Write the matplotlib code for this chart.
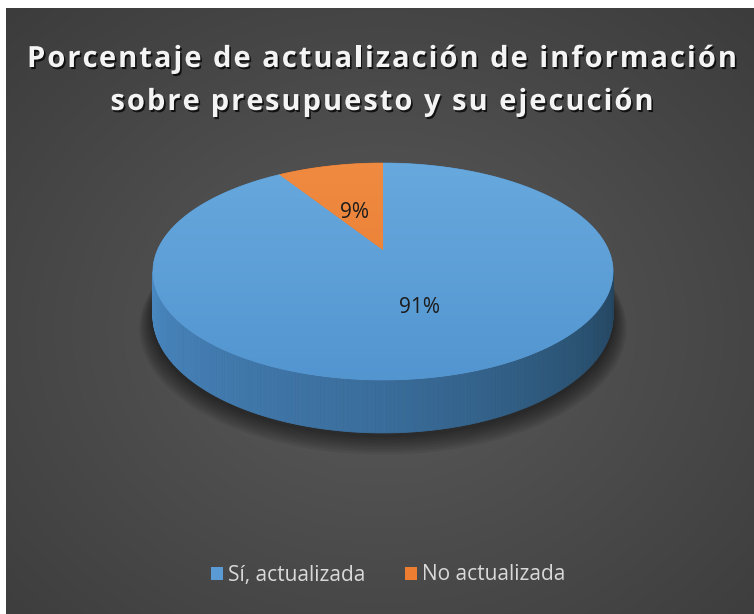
import numpy as np
import matplotlib
matplotlib.use("Agg")
import matplotlib.pyplot as plt
from matplotlib.patches import Polygon, Patch
from matplotlib.font_manager import FontProperties
from matplotlib.textpath import TextToPath
from matplotlib.colors import to_rgb
import matplotlib.patheffects as pe

# ---------------- data ----------------
title_lines = ["Porcentaje de actualización de información",
               "sobre presupuesto y su ejecución"]
categories = ["Sí, actualizada", "No actualizada"]
values = [91, 9]
pct_labels = ["91%", "9%"]
colors = ["#5b9bd5", "#ed7d31"]

# ---------------- style / layout ----------------
W, H, DPI = 754, 614, 100
top_grad = {"#5b9bd5": ("#68aade", "#5294cf"), "#ed7d31": ("#f08b42", "#e67a2d")}
side_anchor_f = [0.0, 0.5, 0.85, 1.0]
side_anchor_c = ["#4a89c3", "#3a6d9b", "#29506f", "#24455f"]
label_r = [0.52, 0.40]

fig = plt.figure(figsize=(W / DPI, H / DPI), dpi=DPI, facecolor="white")
ax = fig.add_axes([0, 0, 1, 1])
ax.set_xlim(0, W)
ax.set_ylim(H, 0)
ax.axis("off")

# background radial gradient
bx0, by0 = 6, 8
yy, xx = np.mgrid[by0:H, bx0:W] + 0.5
rr = np.sqrt(((xx - 380) / 560.0) ** 2 + ((yy - 330) / 470.0) ** 2)
g = 0.355 - 0.125 * np.clip(rr, 0, 1.3)
ax.imshow(np.dstack([g, g, g]), extent=(bx0, W, H, by0), origin="upper",
          interpolation="bilinear", zorder=0, aspect="auto")

# ---------------- pie geometry (perspective) ----------------
cx, cy = 383.0, 250.0
bx, ay = 225.5, 104.2
persp = 0.198
h0 = 42.5


def proj(theta_deg, r=1.0, down=0.0):
    t = np.radians(theta_deg)
    u = r * np.cos(t)
    v = r * np.sin(t)
    d = 1 + persp * v
    return cx + bx * u / d, cy + (-ay * v + down) / d


vals = np.asarray(values, dtype=float)
fracs = vals / vals.sum()
starts = 90 - 360 * np.concatenate([[0], np.cumsum(fracs)[:-1]])
ends = starts - 360 * fracs

# shadow
for k in range(8, 0, -1):
    th = np.linspace(0, 360, 241)
    e = k * 1.6
    sx, sy = proj(th, r=1 + e / 230.0, down=h0 + e * 0.6)
    ax.add_patch(Polygon(np.column_stack([sx, sy + 2]), closed=True,
                         facecolor="black", edgecolor="none", alpha=0.07, zorder=1))

# visible side range (front)
a_l = 180 + np.degrees(np.arcsin(persp))
a_r = 360 - np.degrees(np.arcsin(persp))


def side_color(f):
    rgbs = np.array([to_rgb(c) for c in side_anchor_c])
    return [np.interp(f, side_anchor_f, rgbs[:, i]) for i in range(3)]


for s, e, col in zip(starts, ends, colors):
    lo, hi = min(s, e), max(s, e)
    for shift in (-360, 0, 360):
        a0 = max(lo + shift, a_l)
        a1 = min(hi + shift, a_r)
        if a1 <= a0:
            continue
        n = max(2, int((a1 - a0) / 0.8))
        th = np.linspace(a0, a1, n + 1)
        for t0, t1 in zip(th[:-1], th[1:]):
            x0, y0 = proj(t0)
            x1, y1 = proj(t1)
            x2, y2 = proj(t1, down=h0)
            x3, y3 = proj(t0, down=h0)
            f = ((t0 + t1) / 2 - a_l) / (a_r - a_l)
            c = side_color(f)
            if col != colors[0]:
                c = [ci * 0.75 for ci in to_rgb(col)]
            ax.add_patch(Polygon([[x0, y0], [x1, y1], [x2, y2], [x3, y3]], closed=True,
                                 facecolor=c, edgecolor=c, linewidth=0.6, zorder=2))

# top faces with gradient
for s, e, col in zip(starts, ends, colors):
    th = np.linspace(s, e, max(3, int(abs(e - s) / 0.5)))
    px, py = proj(th)
    pts = np.column_stack([np.concatenate([[cx], px]), np.concatenate([[cy], py])])
    poly = Polygon(pts, closed=True, facecolor=col, edgecolor=col, linewidth=0.5, zorder=3)
    ax.add_patch(poly)
    c_top, c_bot = (np.array(to_rgb(c)) for c in top_grad[col])
    ys = np.linspace(0, 1, 200)[:, None]
    grad = (1 - ys) * c_top + ys * c_bot
    img = np.repeat(grad[:, None, :], 2, axis=1)
    im = ax.imshow(img, extent=(cx - 240, cx + 240, cy + 140, cy - 95), origin="upper",
                   interpolation="bilinear", zorder=4, aspect="auto")
    im.set_clip_path(poly)

# percentage labels
lab_fp = FontProperties(family=["Open Sans", "DejaVu Sans"], size=15)
for s, e, lab, r in zip(starts, ends, pct_labels, label_r):
    lx, ly = proj((s + e) / 2, r=r)
    ax.text(lx - (5 if r < 0.5 else 0), ly, lab, ha="center", va="center", color="#1c1c1c",
            fontproperties=lab_fp, zorder=6)

# ---------------- title with letter spacing ----------------
title_fp = FontProperties(family=["Open Sans", "DejaVu Sans"], weight="bold", size=21)
t2p = TextToPath()
px_per_pt = DPI / 72.0


def wpx(s):
    return t2p.get_text_width_height_descent(s, title_fp, ismath=False)[0] * px_per_pt


target_w = 710.0
tracking = (target_w - wpx(title_lines[0])) / (len(title_lines[0]) - 1)
title_cx = 382.0
baselines = [67.0, 110.0]
ref = wpx("H")
shadow = [pe.withSimplePatchShadow(offset=(1.2, -1.5), shadow_rgbFace="black", alpha=0.75)]
for line, yb in zip(title_lines, baselines):
    total = wpx(line) + tracking * (len(line) - 1)
    x_start = title_cx - total / 2
    for i, ch in enumerate(line):
        if ch == " ":
            continue
        off = (wpx(line[:i] + "H") - ref) if i > 0 else 0.0
        ax.text(x_start + off + tracking * i, yb, ch, ha="left", va="baseline",
                color="#f4f4f4", fontproperties=title_fp, zorder=7, path_effects=shadow)

# ---------------- legend ----------------
handles = [Patch(facecolor=c, edgecolor="none") for c in colors]
leg = fig.legend(handles, categories, loc="center", bbox_to_anchor=(388 / W, 1 - 575 / H),
                 ncol=2, frameon=False, prop=FontProperties(family=["Open Sans", "DejaVu Sans"], size=15),
                 handlelength=0.58, handleheight=0.58, handletextpad=0.25, columnspacing=1.9,
                 borderpad=0, borderaxespad=0)
for t in leg.get_texts():
    t.set_color("#d9d9d9")

fig.savefig("out.png", dpi=DPI, facecolor="white")
